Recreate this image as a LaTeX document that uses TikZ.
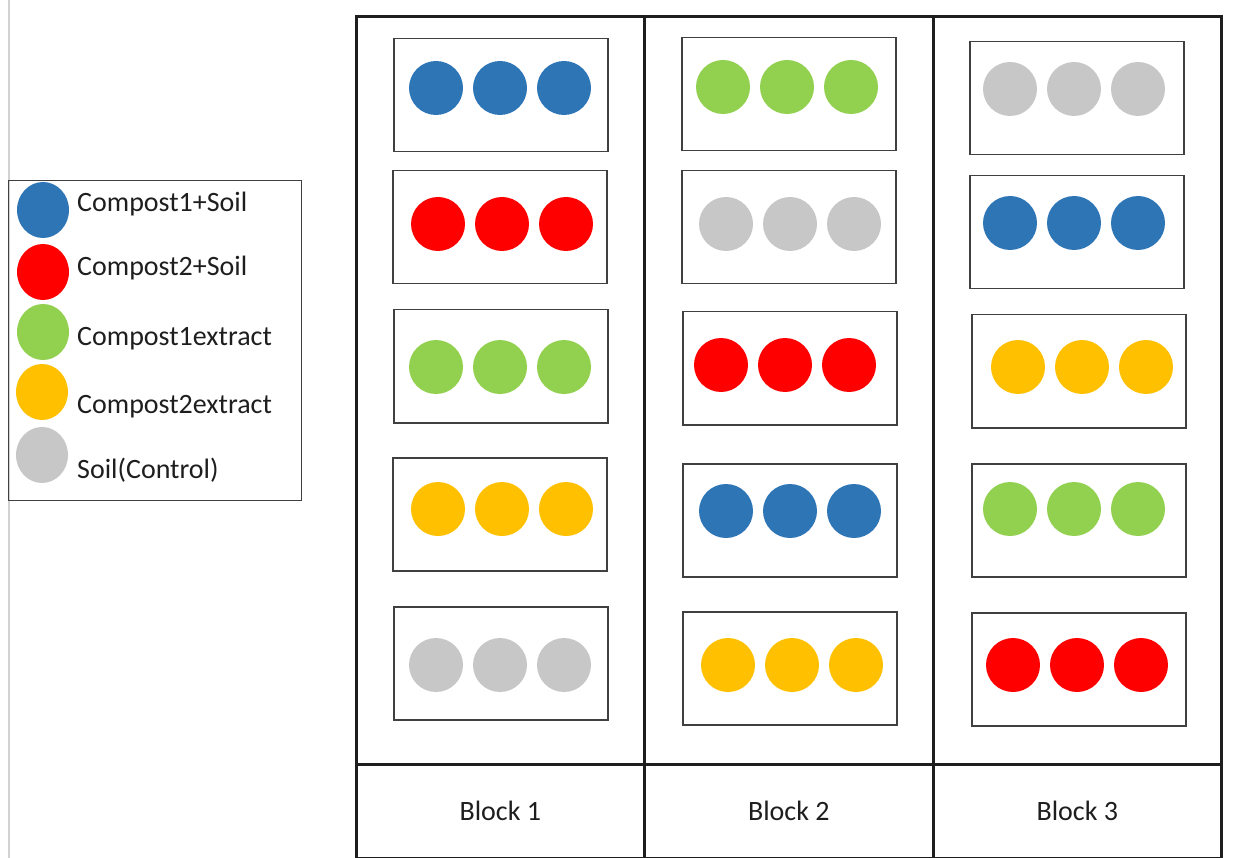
\documentclass[tikz,border=0pt]{standalone}
\usepackage{fontspec}
\setmainfont{Carlito}
\usetikzlibrary{shapes.geometric}

\definecolor{cblue}{HTML}{2E75B6}
\definecolor{cred}{HTML}{FF0000}
\definecolor{cgreen}{HTML}{92D050}
\definecolor{corange}{HTML}{FFC000}
\definecolor{cgray}{HTML}{C7C7C7}
\definecolor{ink}{HTML}{1E1E1E}

\tikzset{
  frame/.style={draw=ink, line width=2.6pt, inner sep=0pt, anchor=north west},
  cell/.style={frame, minimum width=288pt, minimum height=94pt,
    font=\fontsize{28}{32}\selectfont, text=ink},
  plotbox/.style={draw=ink!85, line width=1.5pt, minimum width=214pt,
    minimum height=113pt, inner sep=0pt, anchor=north west},
  dot/.style={circle, minimum size=54pt, inner sep=0pt, fill=#1},
  keydot/.style={ellipse, minimum width=52pt, minimum height=56pt,
    inner sep=0pt, fill=#1},
  keytext/.style={anchor=base west, inner sep=0pt,
    font=\fontsize{28}{32}\selectfont, text=ink},
}

% one plot: name, left, top, first pot x, pot y, colour
\newcommand{\plotrow}[6]{%
  \node[plotbox] (#1) at (#2,#3) {};
  \foreach \k in {0,1,2} \node[dot=#6] (#1-\k) at ({#4+64*\k},#5) {};
}

\begin{document}
\begin{tikzpicture}[x=1pt, y=-1pt]
\useasboundingbox (0,0) rectangle (1241,858);

% page margin line
\draw[gray!35, line width=2pt] (9,0) -- (9,858);

% legend
\node[draw=ink!85, line width=1.2pt, minimum width=293pt, minimum height=320pt,
      inner sep=0pt, anchor=north west] (legend) at (8,180) {};
\node[keydot=cblue]   (k1) at (43,210) {};
\node[keydot=cred]    (k2) at (43,272) {};
\node[keydot=cgreen]  (k3) at (43,332) {};
\node[keydot=corange] (k4) at (42,392) {};
\node[keydot=cgray]   (k5) at (42,455) {};
\node[keytext] (t1) at (77,212) {Compost1+Soil};
\node[keytext] (t2) at (77,276) {Compost2+Soil};
\node[keytext] (t3) at (77,345) {Compost1extract};
\node[keytext] (t4) at (77,413) {Compost2extract};
\node[keytext] (t5) at (77,478) {Soil(Control)};

% blocks
\node[frame, minimum width=288pt, minimum height=748pt] (block1) at (355,15) {};
\node[frame, minimum width=289pt, minimum height=748pt] (block2) at (643,15) {};
\node[frame, minimum width=288pt, minimum height=748pt] (block3) at (932,15) {};
\node[cell] (lab1) at (355,763) {Block 1};
\node[cell, minimum width=289pt] (lab2) at (643,763) {Block 2};
\node[cell] (lab3) at (932,763) {Block 3};

% block 1
\plotrow{b1r1}{393}{38}{436}{88}{cblue}
\plotrow{b1r2}{392}{170}{438}{224}{cred}
\plotrow{b1r3}{393}{309}{436}{367}{cgreen}
\plotrow{b1r4}{392}{457}{438}{509}{corange}
\plotrow{b1r5}{393}{606}{436}{665}{cgray}
% block 2
\plotrow{b2r1}{681}{37}{723}{87}{cgreen}
\plotrow{b2r2}{681}{170}{726}{224}{cgray}
\plotrow{b2r3}{682}{311}{721}{365}{cred}
\plotrow{b2r4}{682}{463}{726}{511}{cblue}
\plotrow{b2r5}{682}{611}{728}{665}{corange}
% block 3
\plotrow{b3r1}{969}{41}{1010}{89}{cgray}
\plotrow{b3r2}{969}{175}{1010}{223}{cblue}
\plotrow{b3r3}{971}{314}{1018}{367}{corange}
\plotrow{b3r4}{971}{463}{1010}{509}{cgreen}
\plotrow{b3r5}{971}{612}{1013}{665}{cred}
\end{tikzpicture}
\end{document}
